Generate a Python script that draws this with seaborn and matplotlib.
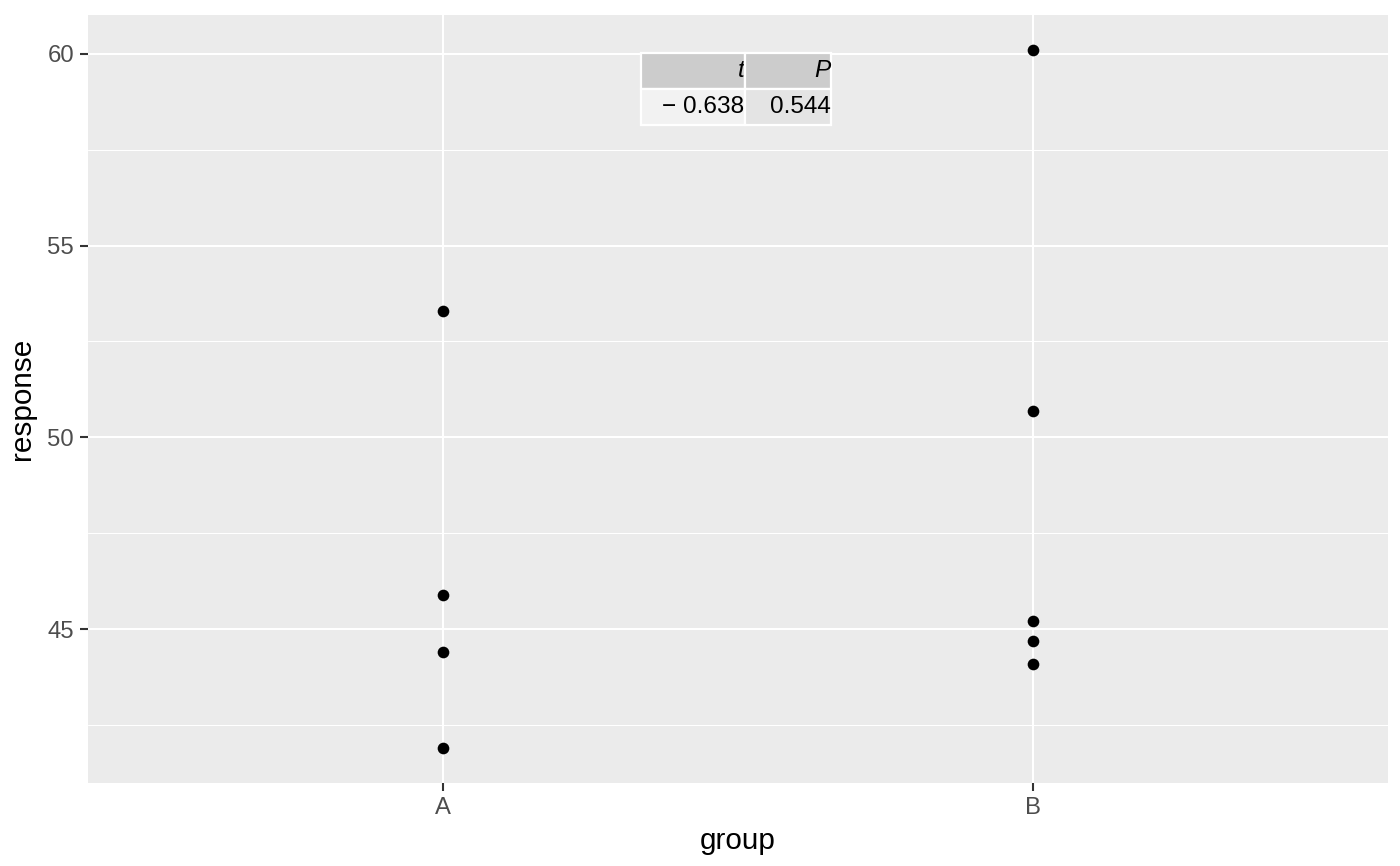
import matplotlib
matplotlib.use("Agg")
import matplotlib.pyplot as plt
import seaborn as sns
import pandas as pd

# data
groups = ["A", "A", "A", "A", "B", "B", "B", "B", "B"]
responses = [53.3, 45.9, 44.4, 41.9, 60.1, 50.7, 45.2, 44.7, 44.1]
table_cols = ["t", "P"]
table_vals = ["\u2212 0.638", "0.544"]

df = pd.DataFrame({"group": groups, "response": responses})

sns.set_theme(style="darkgrid")
plt.rcParams["font.family"] = ["Liberation Sans", "DejaVu Sans"]

fig = plt.figure(figsize=(7, 4.33), dpi=200)
ax = fig.add_axes([88 / 1400, 1 - 783 / 866, 1300 / 1400, 768 / 866])
ax.set_facecolor("#EBEBEB")

sns.stripplot(data=df, x="group", y="response", color="black", jitter=False,
              size=4.2, linewidth=0, ax=ax, zorder=3)

ax.set_xlim(-0.6, 1.6)
ax.set_ylim(40.99, 61.01)
ax.set_yticks([45, 50, 55, 60])
ax.set_yticks([42.5, 47.5, 52.5, 57.5], minor=True)
ax.grid(which="major", color="white", linewidth=0.75)
ax.grid(which="minor", axis="y", color="white", linewidth=0.38)
ax.grid(which="minor", axis="x", visible=False)
ax.set_axisbelow(True)
for s in ax.spines.values():
    s.set_visible(False)

ax.tick_params(axis="both", which="major", length=3, width=0.75, color="#333333",
               labelsize=8.6, labelcolor="#4D4D4D", pad=2, left=True, bottom=True)
ax.tick_params(axis="both", which="minor", length=0)
ax.set_xlabel("group", fontsize=10.7, color="black", labelpad=3)
ax.set_ylabel("response", fontsize=10.7, color="black", labelpad=4)

# little table with the t test result
x0 = (641 - 88) / 1300
x1 = (831 - 88) / 1300
y1 = 1 - (53 - 15) / 768
y0 = 1 - (125 - 15) / 768
tb = ax.table(cellText=[table_vals], colLabels=table_cols,
              cellLoc="right", colLoc="right",
              cellColours=[["#F2F2F2", "#E4E4E4"]],
              colColours=["#CCCCCC", "#CCCCCC"],
              colWidths=[104, 86],
              bbox=[x0, y0, x1 - x0, y1 - y0])
tb.auto_set_font_size(False)
for (r, c), cell in tb.get_celld().items():
    cell.set_edgecolor("white")
    cell.set_linewidth(0.8)
    cell.PAD = 0.005
    cell.get_text().set_fontsize(8.8)
    cell.get_text().set_color("black")
    if r == 0:
        cell.get_text().set_fontstyle("italic")
tb.set_zorder(5)

fig.savefig("out.png", dpi=200)
